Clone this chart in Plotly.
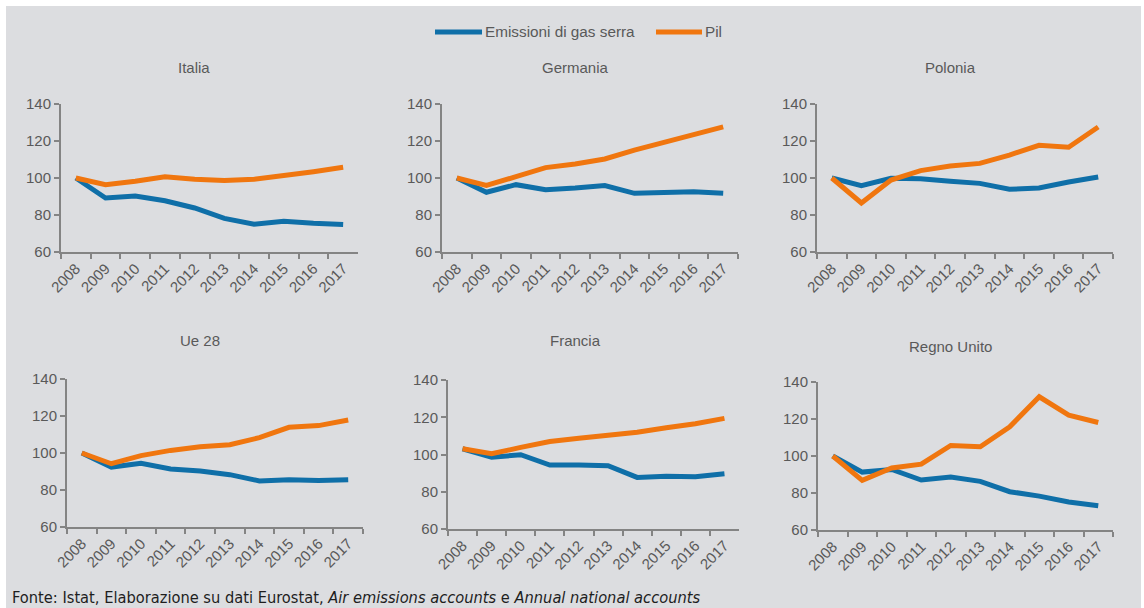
import plotly.graph_objects as go
from plotly.subplots import make_subplots

W, H = 1144, 608

years = ["2008", "2009", "2010", "2011", "2012", "2013", "2014", "2015", "2016", "2017"]

countries = ["Italia", "Germania", "Polonia", "Ue 28", "Francia", "Regno Unito"]

italia_emissioni = [100, 89.2, 90.3, 87.7, 83.8, 78.2, 75.0, 76.6, 75.5, 74.8]
italia_pil = [100, 96.4, 98.2, 100.7, 99.3, 98.6, 99.3, 101.1, 103.4, 105.8]

germania_emissioni = [100, 92.3, 96.4, 93.7, 94.6, 95.9, 91.7, 92.3, 92.6, 91.7]
germania_pil = [100, 96.0, 100.7, 105.6, 107.6, 110.3, 115.1, 119.5, 123.4, 127.6]

polonia_emissioni = [100, 95.9, 99.8, 99.6, 98.2, 97.1, 93.9, 94.6, 97.8, 100.5]
polonia_pil = [100, 86.5, 98.9, 104.0, 106.5, 107.9, 112.4, 117.7, 116.6, 127.6]

ue28_emissioni = [100, 92.4, 94.4, 91.4, 90.3, 88.3, 84.9, 85.6, 85.2, 85.6]
ue28_pil = [100, 94.2, 98.6, 101.4, 103.4, 104.5, 108.3, 113.9, 114.8, 117.8]

francia_emissioni = [103.1, 98.5, 99.9, 94.3, 94.3, 94.0, 87.7, 88.3, 88.1, 89.7]
francia_pil = [103.1, 100.4, 103.8, 107.0, 108.7, 110.1, 111.9, 114.4, 116.5, 119.4]

regno_unito_emissioni = [100, 91.3, 92.7, 87.0, 88.6, 86.3, 80.7, 78.3, 75.1, 73.1]
regno_unito_pil = [100, 86.8, 93.5, 95.6, 105.7, 105.0, 115.8, 132.0, 122.1, 118.1]

emissioni = [italia_emissioni, germania_emissioni, polonia_emissioni,
             ue28_emissioni, francia_emissioni, regno_unito_emissioni]
pil = [italia_pil, germania_pil, polonia_pil,
       ue28_pil, francia_pil, regno_unito_pil]

series_names = ["Emissioni di gas serra", "Pil"]
y_ticks = [60, 80, 100, 120, 140]

BLUE = "#0f6fa8"
ORANGE = "#f0760f"
BG = "#dcdde0"
AXIS = "#848484"
TEXT = "#595959"
FONT = "Liberation Sans, Arial, sans-serif"
LINE_W = 5


def fx(px):
    """pixel x -> paper fraction"""
    return px / W


def fy(py):
    """pixel y (from top) -> paper fraction"""
    return 1 - py / H


# pixel boxes of each panel: (left, right, top, bottom)
boxes = [
    (61, 358, 104, 252),
    (442, 738, 104, 252),
    (817, 1113, 104, 252),
    (67, 363, 379, 527),
    (448, 739, 380, 529),
    (818, 1113, 382, 530),
]
title_pos = [(194, 68), (575, 68), (950, 68), (200, 340), (575, 340), (950, 346)]

fig = make_subplots(rows=2, cols=3)

for i in range(6):
    r, c = i // 3 + 1, i % 3 + 1
    fig.add_trace(go.Scatter(x=years, y=emissioni[i], mode="lines", name=series_names[0],
                             line=dict(color=BLUE, width=LINE_W), showlegend=False),
                  row=r, col=c)
    fig.add_trace(go.Scatter(x=years, y=pil[i], mode="lines", name=series_names[1],
                             line=dict(color=ORANGE, width=LINE_W), showlegend=False),
                  row=r, col=c)

for i, (l, rgt, t, b) in enumerate(boxes):
    sx = "" if i == 0 else str(i + 1)
    fig.layout["xaxis" + sx].update(
        domain=[fx(l), fx(rgt)], type="category", range=[-0.5, 9.5],
        showline=True, linecolor=AXIS, linewidth=2, showgrid=False, zeroline=False,
        ticks="outside", tickson="boundaries", ticklen=5, tickcolor=AXIS, tickwidth=1.5,
        tickangle=-45, tickfont=dict(family=FONT, size=15, color=TEXT),
    )
    fig.layout["yaxis" + sx].update(
        domain=[fy(b), fy(t)], range=[60, 140], tickvals=y_ticks,
        showline=True, linecolor=AXIS, linewidth=2, showgrid=False, zeroline=False,
        ticks="outside", ticklen=5, tickcolor=AXIS, tickwidth=1.5,
        tickfont=dict(family=FONT, size=15, color=TEXT),
    )

annotations = []
for name, (px, py) in zip(countries, title_pos):
    annotations.append(dict(x=fx(px), y=fy(py), xref="paper", yref="paper",
                            text=name, showarrow=False, xanchor="center", yanchor="middle",
                            font=dict(family=FONT, size=15, color=TEXT)))

# gray card behind the panels, leaving a thin white edge at top, left and right
shapes = [dict(type="rect", xref="paper", yref="paper", x0=fx(6), x1=fx(1141),
               y0=0, y1=fy(6), fillcolor=BG, line=dict(width=0), layer="below")]

# legend drawn as line samples with labels
legend_items = [(435, 482, series_names[0], BLUE), (656, 702, series_names[1], ORANGE)]
for x0, x1, label, col in legend_items:
    shapes.append(dict(type="line", xref="paper", yref="paper",
                       x0=fx(x0), x1=fx(x1), y0=fy(32), y1=fy(32),
                       line=dict(color=col, width=LINE_W)))
    annotations.append(dict(x=fx(x1 + 1), y=fy(32), xref="paper", yref="paper",
                            text=label, showarrow=False, xanchor="left", yanchor="middle",
                            font=dict(family=FONT, size=15.3, color=TEXT)))

annotations.append(dict(
    x=fx(10), y=fy(597), xref="paper", yref="paper", showarrow=False,
    xanchor="left", yanchor="middle",
    text="Fonte: Istat, Elaborazione su dati Eurostat, <i>Air emissions accounts</i> e <i>Annual national accounts</i>",
    font=dict(family="Liberation Sans Narrow, DejaVu Sans Condensed, Arial Narrow, sans-serif",
              size=16.3, color="#1e1e1e")))

fig.update_layout(
    width=W, height=H,
    margin=dict(l=0, r=0, t=0, b=0, pad=0, autoexpand=False),
    paper_bgcolor="white", plot_bgcolor="rgba(0,0,0,0)",
    annotations=annotations, shapes=shapes, showlegend=False,
)

fig.write_html("out.html")
